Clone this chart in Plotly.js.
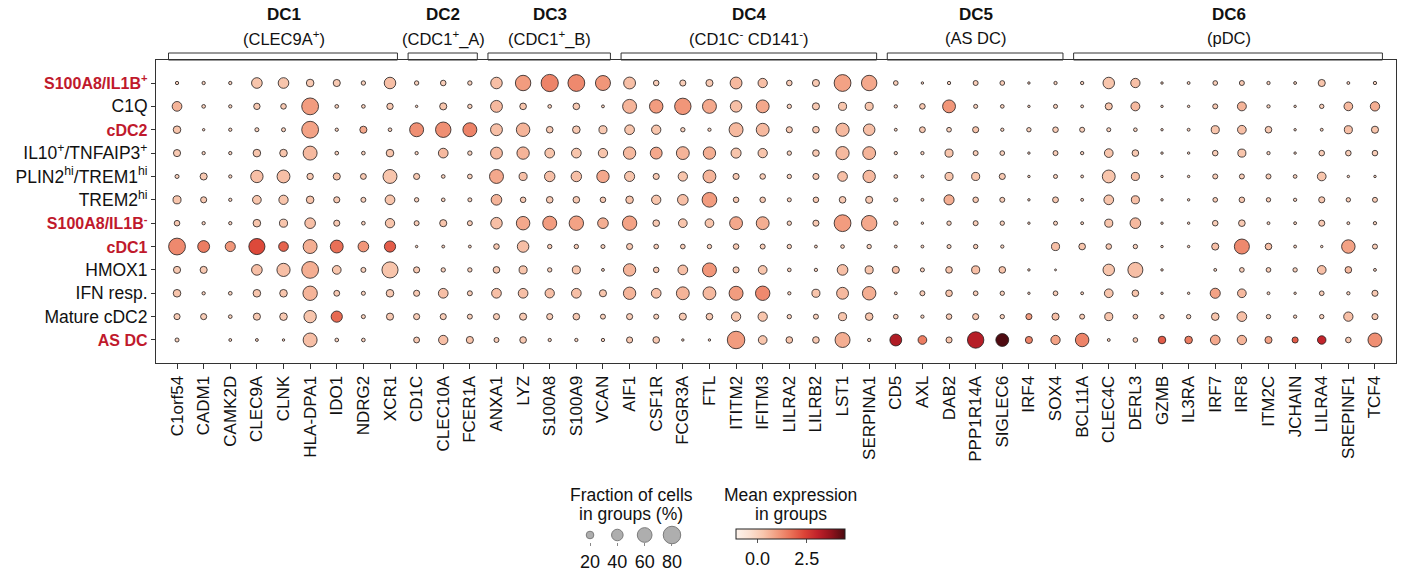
<!DOCTYPE html>
<html><head><meta charset="utf-8">
<script src="https://cdn.plot.ly/plotly-3.0.1.min.js"></script>
<style>body{margin:0;background:#fff}#chart{width:1401px;height:575px}</style>
</head><body><div id="chart"></div>
<script>
// ---------- DATA ----------
const genes = ['C1orf54','CADM1','CAMK2D','CLEC9A','CLNK','HLA-DPA1','IDO1','NDRG2','XCR1',
  'CD1C','CLEC10A','FCER1A',
  'ANXA1','LYZ','S100A8','S100A9','VCAN',
  'AIF1','CSF1R','FCGR3A','FTL','ITITM2','IFITM3','LILRA2','LILRB2','LST1','SERPINA1',
  'CD5','AXL','DAB2','PPP1R14A','SIGLEC6','IRF4','SOX4',
  'BCL11A','CLEC4C','DERL3','GZMB','IL3RA','IRF7','IRF8','ITM2C','JCHAIN','LILRA4','SREPINF1','TCF4'];

const groupNames = ['DC1','DC2','DC3','DC4','DC5','DC6'];
const groupSubtitles = ['(CLEC9A<sup>+</sup>)','(CDC1<sup>+</sup>_A)','(CDC1<sup>+</sup>_B)',
  '(CD1C<sup>-</sup> CD141<sup>-</sup>)','(AS DC)','(pDC)'];
const groupFirst = ['C1orf54','CD1C','ANXA1','AIF1','CD5','BCL11A'];
const groupLast  = ['XCR1','FCER1A','VCAN','SERPINA1','SOX4','TCF4'];

const clusters = ['S100A8/IL1B<sup>+</sup>','C1Q','cDC2','IL10<sup>+</sup>/TNFAIP3<sup>+</sup>',
  'PLIN2<sup>hi</sup>/TREM1<sup>hi</sup>','TREM2<sup>hi</sup>','S100A8/IL1B<sup>-</sup>','cDC1',
  'HMOX1','IFN resp.','Mature cDC2','AS DC'];
const highlightedClusters = ['S100A8/IL1B<sup>+</sup>','cDC2','S100A8/IL1B<sup>-</sup>','cDC1','AS DC'];

// Fraction of cells in group (%), one row per cluster, columns follow `genes`
const fraction = [
 [5,5,5,35,35,20,18,8,40, 8,12,8, 40,65,78,75,62, 42,12,14,18,42,28,12,18,75,65, 9,3,5,10,9,3,5, 5,40,28,3,4,9,10,5,4,18,4,5],
 [30,6,5,15,12,75,6,6,15, 3,18,8, 42,16,6,16,4, 55,52,72,55,40,48,8,18,22,22, 5,12,48,7,6,3,7, 4,18,26,3,3,10,26,5,3,8,25,28],
 [20,3,5,7,7,75,5,18,6, 55,65,55, 42,52,16,20,22, 30,28,8,5,55,48,14,16,50,40, 4,13,9,14,5,8,12, 10,7,6,3,4,22,25,16,3,4,22,18],
 [18,5,5,20,20,55,6,6,20, 5,30,8, 42,45,30,30,28, 45,42,48,45,32,28,8,16,50,48, 5,5,22,10,9,3,10, 5,25,16,3,3,12,22,5,3,12,12,12],
 [7,18,5,45,48,15,18,13,55, 14,6,9, 55,22,34,34,45, 32,14,28,48,14,12,8,14,30,45, 6,4,22,22,14,3,7, 4,48,22,3,3,10,10,10,6,25,3,3],
 [22,14,5,25,28,20,14,10,30, 8,6,7, 35,12,16,16,12, 20,28,35,60,12,12,7,12,16,18, 7,4,32,12,10,3,13, 4,30,22,3,3,9,12,8,5,14,8,10],
 [12,5,5,20,22,35,14,6,28, 10,18,10, 40,52,55,58,35, 58,16,25,25,48,48,8,14,75,65, 8,3,8,10,8,3,7, 4,22,35,3,3,12,16,4,4,14,4,5],
 [75,42,32,70,30,55,48,35,38, 3,4,4, 12,40,8,8,7, 14,9,9,8,12,10,8,4,6,8, 4,4,7,8,5,0,22, 16,12,8,3,3,18,62,16,4,3,52,10],
 [18,18,0,35,50,75,25,10,70, 14,8,8, 16,22,8,22,4, 45,12,30,55,14,25,6,5,35,22, 18,7,16,22,16,3,2, 0,40,62,3,0,4,9,9,8,25,16,4],
 [20,5,6,20,20,58,13,7,20, 14,30,10, 30,30,28,30,18, 45,30,48,48,55,58,5,22,42,52, 4,10,16,9,8,3,9, 4,25,16,3,3,32,25,4,3,9,5,14],
 [14,14,6,18,20,45,38,7,18, 14,14,10, 14,18,14,16,10, 14,10,18,16,28,28,8,10,22,20, 9,5,12,14,8,14,18, 10,22,9,8,8,20,30,8,5,8,28,14],
 [7,0,4,4,3,55,6,6,0, 13,28,18, 10,16,5,5,5, 14,16,3,3,80,25,16,16,62,5, 42,25,14,72,48,18,28, 52,4,9,20,20,30,28,18,14,24,12,55]
];

// Mean expression in group
const meanExpr = [
 [0,0,0,0.3,0.3,0.2,0.2,0,0.4, 0,0.1,0, 0.4,1.0,1.4,1.3,1.1, 0.4,0.1,0.1,0.2,0.5,0.4,0.1,0.2,0.9,0.8, 0.1,0,0,0.1,0.1,0,0, 0,0.3,0.4,0,0,0.1,0.2,0,0,0.3,0,0],
 [0.6,0,0,0.2,0.2,1.0,0,0,0.2, 0,0.3,0, 0.5,0.3,0,0.2,0, 0.6,1.0,1.1,0.8,0.4,0.8,0,0.2,0.3,0.3, 0,0.2,1.1,0,0,0,0, 0,0.3,0.5,0,0,0.2,0.6,0,0,0.1,0.5,0.7],
 [0.3,0,0,0,0,0.9,0,0.8,0, 1.2,1.2,1.4, 0.4,0.6,0.2,0.2,0.2, 0.3,0.3,0,0,0.5,0.5,0.2,0.2,0.5,0.4, 0,0.2,0,0.3,0,0,0.1, 0,0,0,0,0,0.3,0.4,0.2,0,0,0.4,0.3],
 [0.2,0,0,0.3,0.3,0.5,0,0,0.3, 0,0.5,0, 0.5,0.6,0.3,0.3,0.3, 0.5,0.8,0.6,0.7,0.3,0.3,0,0.2,0.5,0.6, 0,0,0.3,0.1,0,0,0.1, 0,0.3,0.2,0,0,0.1,0.3,0,0,0.1,0.1,0.1],
 [0,0.2,0,0.4,0.4,0.2,0.3,0.2,0.3, 0.2,0,0, 0.8,0.4,0.4,0.4,0.8, 0.3,0.2,0.3,0.6,0.2,0.1,0,0.2,0.4,0.5, 0,0,0.3,0.3,0.2,0,0, 0,0.3,0.4,0,0,0.1,0.1,0.1,0,0.3,0,0],
 [0.3,0.2,0,0.3,0.3,0.3,0.2,0,0.3, 0,0,0, 0.6,0.2,0.2,0.2,0.2, 0.3,0.3,0.4,1.0,0.2,0.2,0,0.2,0.2,0.2, 0,0,0.7,0.2,0.1,0,0.2, 0,0.3,0.4,0,0,0.1,0.2,0.1,0,0.2,0.1,0.1],
 [0.2,0,0,0.3,0.3,0.4,0.2,0,0.3, 0.1,0.3,0.1, 0.4,0.8,1.0,0.9,0.7, 0.9,0.2,0.3,0.3,0.8,0.7,0,0.2,1.0,0.8, 0,0,0,0.1,0,0,0, 0,0.3,0.5,0,0,0.1,0.2,0,0,0.2,0,0],
 [1.3,1.5,1.1,2.3,1.9,0.7,1.7,1.1,2.0, 0,0,0, 0.2,0.4,0.1,0.1,0, 0.2,0.1,0.1,0,0.2,0.1,0,0,0,0, 0,0,0,0.1,0,0,0.4, 0.3,0.2,0,0,0,0.4,1.3,0.4,0,0,0.9,0.1],
 [0.2,0.2,0,0.4,0.4,0.7,0.3,0,0.3, 0.2,0,0, 0.2,0.3,0,0.3,0, 0.6,0.2,0.4,1.1,0.2,0.3,0,0,0.4,0.3, 0.4,0,0.3,0.4,0.3,0,0, 0,0.3,0.4,0,0,0,0.1,0.1,0,0.4,0.5,0],
 [0.3,0,0,0.3,0.3,0.6,0.2,0,0.2, 0.2,0.4,0.1, 0.4,0.4,0.4,0.4,0.3, 0.6,0.4,0.6,0.5,1.0,1.3,0,0.3,0.5,0.7, 0,0.1,0.3,0.1,0,0,0.1, 0,0.3,0.3,0,0,0.9,0.5,0,0,0.1,0,0.2],
 [0.1,0.1,0,0.2,0.2,0.3,1.8,0,0.2, 0.1,0.1,0, 0.1,0.2,0.1,0.2,0, 0.1,0,0.2,0.2,0.3,0.3,0,0,0.3,0.3, 0,0,0.1,0.2,0,1.0,0.4, 0.1,0.3,0.1,0,0,0.3,0.4,0,0,0,0.4,0.2],
 [0,0,0,0,0,0.4,0,0,0, 0.2,0.4,0.3, 0.1,0.2,0,0,0, 0.2,0.2,0,0,1.0,0.3,0.3,0.2,0.7,0, 3.3,1.5,0.3,3.2,4.4,1.4,0.9, 1.4,0,0.1,2.0,1.5,0.8,0.6,0.9,2.0,3.0,0.2,1.2]
];

const sizeLegendValues = [20, 40, 60, 80];
const sizeLegendTitle = ['Fraction of cells', 'in groups (%)'];
const colorLegendTitle = ['Mean expression', 'in groups'];
const colorTickVals = [0, 2.5];
const colorTickText = ['0.0', '2.5'];

// ---------- CHART ----------
const FONT = 'Liberation Sans, Arial, sans-serif';
const RED = '#c0192c';
const diam = f => 20 * Math.pow(f / 100, 0.6);
const reds = [[0,'#fdf3ec'],[0.125,'#fbe1d2'],[0.25,'#f8c6ad'],[0.375,'#f29d80'],[0.5,'#ea7258'],
  [0.625,'#dc4437'],[0.75,'#c0212a'],[0.875,'#90121c'],[1,'#4a0a10']];

const xs = [], ys = [], sz = [], col = [];
fraction.forEach((row, r) => row.forEach((f, c) => {
  if (f <= 0) return;
  xs.push(genes[c]); ys.push(r); sz.push(diam(f)); col.push(meanExpr[r][c]);
}));

const W = 1401, H = 575, ML = 156, MR = 5, MT = 60, MB = 5;
const plotBottom = 363;
const paperH = H - MT - MB, paperW = W - ML - MR;
const py = px => (H - MB - px) / paperH;
const pxX = px => (px - ML) / paperW;

const traces = [{
  type: 'scatter', mode: 'markers', x: xs, y: ys, xaxis: 'x', yaxis: 'y',
  marker: {
    size: sz, sizemode: 'diameter', color: col, colorscale: reds, cmin: -1.1, cmax: 4.45,
    line: {color: 'rgba(35,30,30,0.9)', width: 0.9}, opacity: 1,
    showscale: true,
    colorbar: {
      orientation: 'h', x: pxX(790.5), xanchor: 'center', y: py(529), yanchor: 'top', ypad: 0, xpad: 0,
      len: 109, lenmode: 'pixels', thickness: 10, thicknessmode: 'pixels',
      outlinecolor: '#222', outlinewidth: 1,
      title: {text: ''},
      tickvals: colorTickVals, ticktext: colorTickText, ticks: 'outside', ticklen: 4,
      tickcolor: '#555', tickfont: {family: FONT, size: 18, color: '#111'}
    }
  },
  hoverinfo: 'x+y', showlegend: false
}, {
  type: 'scatter', mode: 'markers', x: sizeLegendValues, y: sizeLegendValues.map(() => 0),
  xaxis: 'x2', yaxis: 'y2', cliponaxis: false,
  marker: {size: sizeLegendValues.map(diam), color: '#8c8c8c', line: {color: '#444', width: 1}},
  showlegend: false, hoverinfo: 'skip'
}];

const shapes = [], annotations = [];
groupNames.forEach((g, i) => {
  const a = genes.indexOf(groupFirst[i]), b = genes.indexOf(groupLast[i]);
  shapes.push({type: 'rect', xref: 'x', yref: 'paper', x0: a - 0.32, x1: b + 0.28,
    y0: 1, y1: 1 + 7 / paperH,
    line: {color: '#333', width: 1}, fillcolor: 'rgba(0,0,0,0)'});
  const mid = (a + b) / 2;
  annotations.push({xref: 'x', yref: 'paper', x: mid, y: 1, yanchor: 'middle', yshift: 46,
    text: '<b>' + g + '</b>', showarrow: false, font: {family: FONT, size: 17, color: '#111'}});
  annotations.push({xref: 'x', yref: 'paper', x: mid, y: 1, yanchor: 'middle', yshift: 22,
    text: groupSubtitles[i], showarrow: false, font: {family: FONT, size: 16.5, color: '#111'}});
});
const legendLineY = [495, 514];
sizeLegendTitle.forEach((t, i) => annotations.push({xref: 'paper', yref: 'paper', x: pxX(631), y: py(legendLineY[i]),
  yanchor: 'middle', xanchor: 'center', text: t, showarrow: false, font: {family: FONT, size: 17.5, color: '#111'}}));
colorLegendTitle.forEach((t, i) => annotations.push({xref: 'paper', yref: 'paper', x: pxX(790.5), y: py(legendLineY[i]),
  yanchor: 'middle', xanchor: 'center', text: t, showarrow: false, font: {family: FONT, size: 17.5, color: '#111'}}));

const yLabels = clusters.map(c => highlightedClusters.includes(c)
  ? '<b><span style="color:' + RED + ';font-size:16px">' + c + '</span></b>' : c);

const layout = {
  width: W, height: H, paper_bgcolor: '#fff', plot_bgcolor: '#fff',
  margin: {l: ML, r: MR, t: MT, b: MB},
  font: {family: FONT, color: '#111'},
  xaxis: {type: 'category', categoryorder: 'array', categoryarray: genes, range: [-0.79, genes.length - 1 + 0.79],
    showgrid: false, zeroline: false, showline: true, linecolor: '#333', linewidth: 1, mirror: true,
    ticks: 'outside', ticklen: 5, tickcolor: '#333', tickangle: -90, automargin: false,
    tickfont: {family: FONT, size: 17, color: '#111'}, anchor: 'y'},
  yaxis: {domain: [py(plotBottom), 1], range: [clusters.length - 1 + 0.985, -0.985],
    tickvals: clusters.map((_, i) => i), ticktext: yLabels, automargin: false,
    showgrid: false, zeroline: false, showline: true, linecolor: '#333', linewidth: 1, mirror: true,
    ticks: 'outside', ticklen: 4, tickcolor: '#333', tickfont: {family: FONT, size: 17.5, color: '#111'}, anchor: 'x'},
  xaxis2: {domain: [pxX(578), pxX(684)], range: [11.2, 88.8], anchor: 'y2', automargin: false,
    tickvals: sizeLegendValues, ticktext: sizeLegendValues.map(String),
    showgrid: false, zeroline: false, showline: false, ticks: 'outside', ticklen: 3, tickcolor: '#888',
    tickfont: {family: FONT, size: 18, color: '#111'}},
  yaxis2: {domain: [py(542), py(528)], range: [-1, 1], anchor: 'x2', visible: false},
  shapes: shapes, annotations: annotations, showlegend: false
};

Plotly.newPlot('chart', traces, layout, {displayModeBar: false, staticPlot: true});
</script>
</body></html>
